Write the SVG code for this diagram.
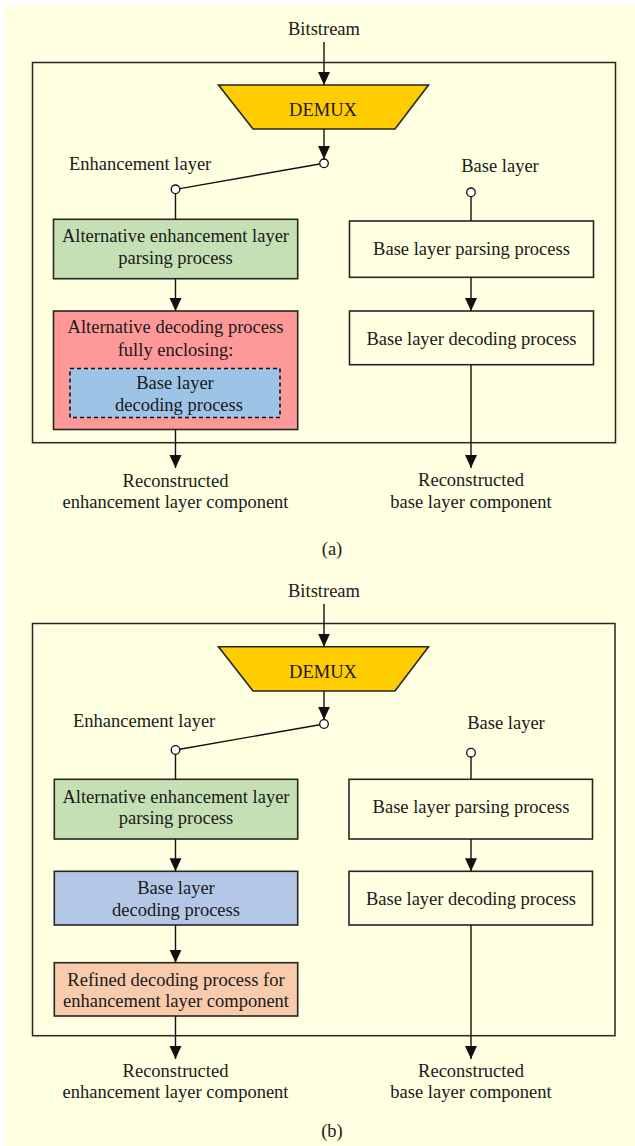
<svg xmlns="http://www.w3.org/2000/svg" width="635" height="1146" viewBox="0 0 635 1146">
  <style>
    text { font-family: "Liberation Serif", "Times New Roman", serif; font-size: 18.5px; fill: #1a1a1a; }
    .c { text-anchor: middle; }
    .frame { fill: none; stroke: #262626; stroke-width: 1.5; }
    .box { stroke: #262626; stroke-width: 1.6; }
    .plain { fill: #FFFFE1; }
    .demux { fill: #FFCC00; }
    .green { fill: #C5E0B4; }
    .pink { fill: #FF9999; }
    .inner { fill: #9DC3E6; stroke: #111; stroke-width: 1.6; stroke-dasharray: 4 3; }
    .blue { fill: #B4C7E7; }
    .orange { fill: #F8CBAD; }
    .wire { fill: none; stroke: #111; stroke-width: 1.4; }
    .arrow { fill: none; stroke: #111; stroke-width: 1.4; marker-end: url(#head); }
    .port { fill: #fff; stroke: #111; stroke-width: 1.3; }
  </style>
  <defs>
    <marker id="head" markerUnits="userSpaceOnUse" markerWidth="14" markerHeight="13" refX="13" refY="6" orient="auto">
      <path d="M0,0 L13,6 L0,12 z" fill="#111"/>
    </marker>
  </defs>

  <!-- page background -->
  <rect x="5" y="6" width="630" height="1140" fill="#FFFFE1"/>

  <!-- ===== Panel (a) ===== -->
  <g id="a-frame"><rect class="frame" x="32.5" y="62.5" width="583" height="380.2"/></g>
  <g id="a-bitstream"><text class="c" x="324" y="35">Bitstream</text></g>
  <g id="a-demux">
    <polygon class="box demux" points="218.5,85 428.5,85 395,129 253,129"/>
    <text class="c" x="323" y="116">DEMUX</text>
  </g>
  <g id="a-enh-label"><text x="69" y="170">Enhancement layer</text></g>
  <g id="a-base-label"><text class="c" x="500" y="171.7">Base layer</text></g>
  <g id="a-enh-parse">
    <rect class="box green" x="53.5" y="219.3" width="244.2" height="59.4"/>
    <text class="c" x="175.5" y="241.7">Alternative enhancement layer</text>
    <text class="c" x="175.5" y="264">parsing process</text>
  </g>
  <g id="a-alt-decode">
    <rect class="box pink" x="53.5" y="311" width="244.2" height="118.5"/>
    <text class="c" x="175.5" y="333.3">Alternative decoding process</text>
    <text class="c" x="175.5" y="355.7">fully enclosing:</text>
  </g>
  <g id="a-inner-decode">
    <rect class="inner" x="70" y="368.5" width="210" height="49"/>
    <text class="c" x="175" y="389">Base layer</text>
    <text class="c" x="179" y="410.7">decoding process</text>
  </g>
  <g id="a-base-parse">
    <rect class="box plain" x="349.5" y="221" width="244" height="56.3"/>
    <text class="c" x="471.5" y="255">Base layer parsing process</text>
  </g>
  <g id="a-base-decode">
    <rect class="box plain" x="349.5" y="311" width="244" height="53.7"/>
    <text class="c" x="471.5" y="345">Base layer decoding process</text>
  </g>
  <g id="a-out-enh">
    <text class="c" x="175.5" y="486.7">Reconstructed</text>
    <text class="c" x="175.5" y="508.3">enhancement layer component</text>
  </g>
  <g id="a-out-base">
    <text class="c" x="471" y="486.3">Reconstructed</text>
    <text class="c" x="471" y="507.8">base layer component</text>
  </g>
  <g id="a-caption"><text class="c" x="332" y="555">(a)</text></g>

  <g id="a-connectors">
    <line class="arrow" x1="324" y1="42" x2="324" y2="85"/>
    <line class="arrow" x1="324" y1="129" x2="324" y2="159"/>
    <line class="wire" x1="319.8" y1="164" x2="179.8" y2="188.6"/>
    <line class="wire" x1="175.5" y1="193.6" x2="175.5" y2="219.3"/>
    <line class="wire" x1="471" y1="196.6" x2="471" y2="221"/>
    <line class="arrow" x1="175.5" y1="278.7" x2="175.5" y2="311"/>
    <line class="arrow" x1="471" y1="277.3" x2="471" y2="311"/>
    <line class="arrow" x1="175.5" y1="429.5" x2="175.5" y2="468"/>
    <line class="arrow" x1="471" y1="364.7" x2="471" y2="468"/>
    <circle class="port" cx="324" cy="163.3" r="4.3"/>
    <circle class="port" cx="175.5" cy="189.3" r="4.3"/>
    <circle class="port" cx="471" cy="192.3" r="4.3"/>
  </g>

  <!-- ===== Panel (b) ===== -->
  <g id="b-frame"><rect class="frame" x="32.5" y="623.5" width="582.5" height="412.2"/></g>
  <g id="b-bitstream"><text class="c" x="324" y="596.7">Bitstream</text></g>
  <g id="b-demux">
    <polygon class="box demux" points="218.5,646.7 428.5,646.7 395,691 253,691"/>
    <text class="c" x="323" y="678.3">DEMUX</text>
  </g>
  <g id="b-enh-label"><text x="73" y="727.3">Enhancement layer</text></g>
  <g id="b-base-label"><text class="c" x="506" y="729.3">Base layer</text></g>
  <g id="b-enh-parse">
    <rect class="box green" x="54.3" y="779.3" width="243.4" height="59.7"/>
    <text class="c" x="176" y="802.7">Alternative enhancement layer</text>
    <text class="c" x="176" y="824.3">parsing process</text>
  </g>
  <g id="b-base-decode-enh">
    <rect class="box blue" x="54.3" y="871.3" width="243.4" height="53.7"/>
    <text class="c" x="176" y="894">Base layer</text>
    <text class="c" x="176" y="915.7">decoding process</text>
  </g>
  <g id="b-refine">
    <rect class="box orange" x="54.3" y="962.7" width="243.4" height="53.3"/>
    <text class="c" x="176" y="986">Refined decoding process for</text>
    <text class="c" x="176" y="1007.3">enhancement layer component</text>
  </g>
  <g id="b-base-parse">
    <rect class="box plain" x="349" y="779.3" width="243.5" height="59.7"/>
    <text class="c" x="471" y="813.3">Base layer parsing process</text>
  </g>
  <g id="b-base-decode">
    <rect class="box plain" x="349" y="871.3" width="243.5" height="53.7"/>
    <text class="c" x="471" y="905">Base layer decoding process</text>
  </g>
  <g id="b-out-enh">
    <text class="c" x="175.5" y="1076.7">Reconstructed</text>
    <text class="c" x="175.5" y="1098.3">enhancement layer component</text>
  </g>
  <g id="b-out-base">
    <text class="c" x="471" y="1076.7">Reconstructed</text>
    <text class="c" x="471" y="1098.3">base layer component</text>
  </g>
  <g id="b-caption"><text class="c" x="332" y="1137">(b)</text></g>

  <g id="b-connectors">
    <line class="arrow" x1="324" y1="604" x2="324" y2="646.7"/>
    <line class="arrow" x1="324" y1="691" x2="324" y2="719.7"/>
    <line class="wire" x1="319.8" y1="724.7" x2="179.8" y2="749.3"/>
    <line class="wire" x1="175.5" y1="754.3" x2="175.5" y2="779.3"/>
    <line class="wire" x1="471" y1="757" x2="471" y2="779.3"/>
    <line class="arrow" x1="175.5" y1="839" x2="175.5" y2="871.3"/>
    <line class="arrow" x1="175.5" y1="925" x2="175.5" y2="962.7"/>
    <line class="arrow" x1="175.5" y1="1016" x2="175.5" y2="1059"/>
    <line class="arrow" x1="471" y1="839" x2="471" y2="871.3"/>
    <line class="arrow" x1="471" y1="925" x2="471" y2="1059"/>
    <circle class="port" cx="324" cy="724" r="4.3"/>
    <circle class="port" cx="175.5" cy="750" r="4.3"/>
    <circle class="port" cx="471" cy="752.7" r="4.3"/>
  </g>
</svg>
